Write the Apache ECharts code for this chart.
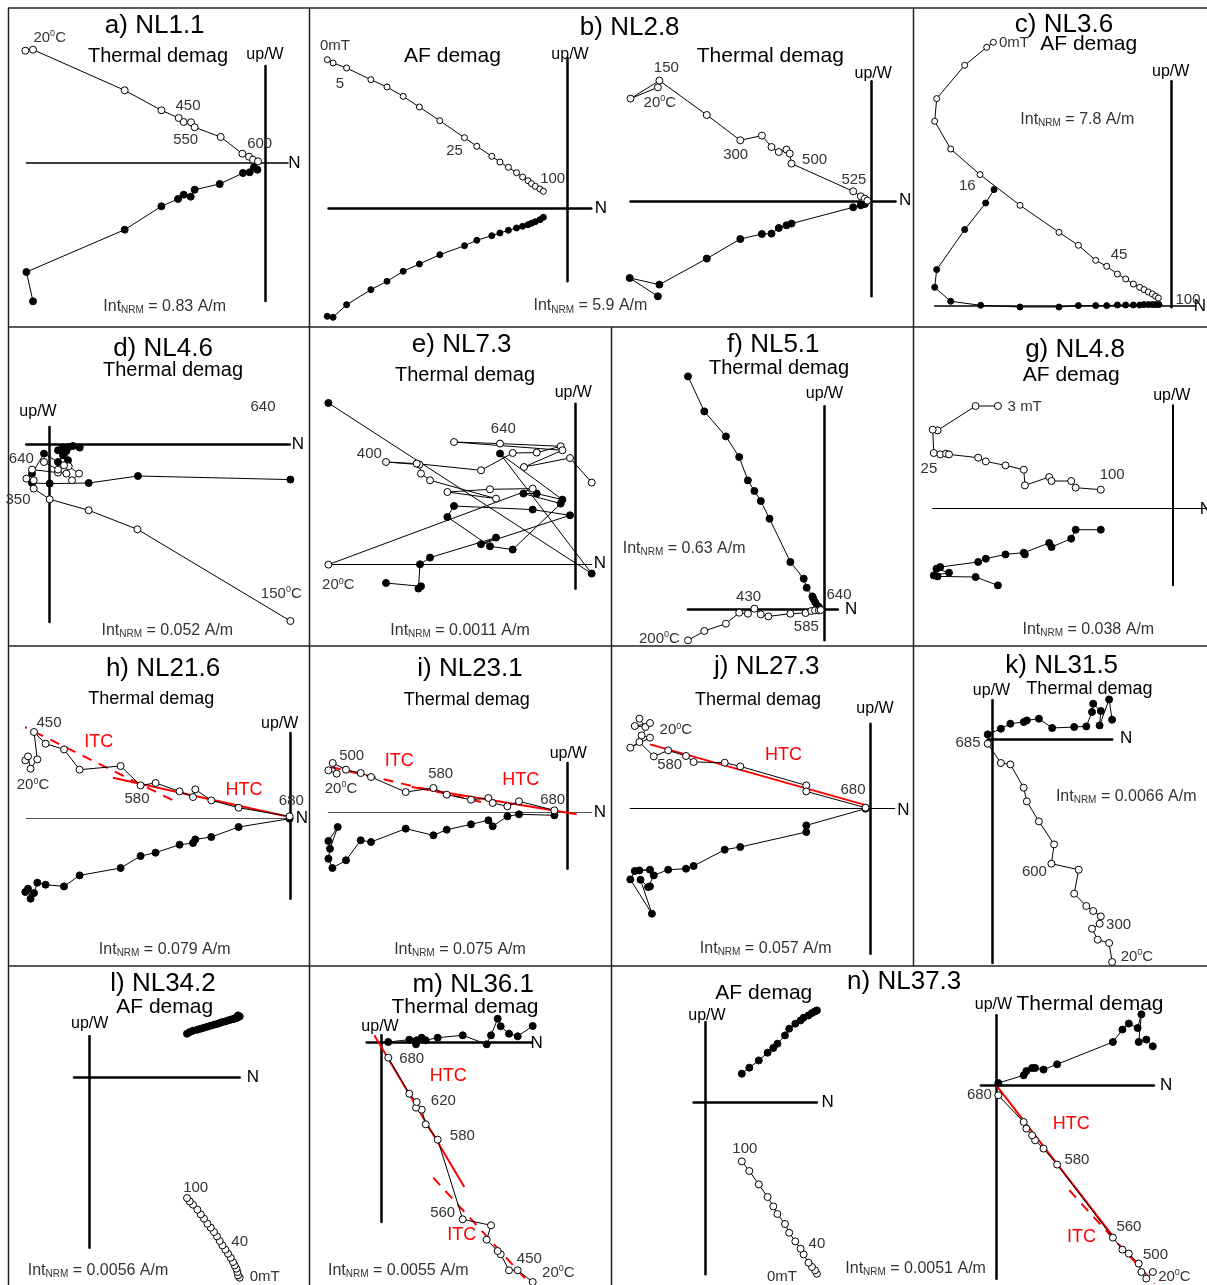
<!DOCTYPE html>
<html>
<head>
<meta charset="utf-8">
<script src="https://cdn.jsdelivr.net/npm/echarts@6/dist/echarts.min.js"></script>
<style>
  html, body { margin: 0; padding: 0; background: #fff; }
  #chart { width: 1207px; height: 1285px; }
</style>
</head>
<body>
<div id="chart"></div>
<script>
// Orthogonal vector-component (Zijderveld) plots of stepwise demagnetisation.
// Each pair is [N component, Up or W component] in scaled units.
// "_vert"  -> open symbols, vertical plane (N vs Up)
// "_horiz" -> filled symbols, horizontal plane (N vs W)

// a) NL1.1, thermal
const NL1_1_vert  = [[-240.3,112.3],[-232.7,113.3],[-141,72.7],[-104.3,52.7],[-87,45],[-82,41],[-74.7,40.7],[-71,35.7],[-45,26],[-23.3,9.3],[-16.7,6.3],[-12.7,3.3],[-7.7,1.7]];
const NL1_1_horiz = [[-232.7,-138.3],[-239.3,-109],[-141,-66.7],[-104.3,-43.3],[-87.7,-36],[-82,-31.7],[-75,-33.7],[-71,-26.7],[-46,-21],[-22.7,-10],[-16,-9.3],[-11.7,-4.3],[-8.3,-6.7]];

// b) NL2.8, AF (0-100 mT)
const NL2_8_AF_N  = [-240,-234.2,-220.7,-196.4,-180.3,-164.1,-147.9,-127.5,-102.8,-90.5,-75.5,-67.4,-58.9,-50.8,-44.7,-39.3,-35.8,-32,-27.4,-23.9];
const NL2_8_AF_Up = [148.3,145,140,128.3,121,111.7,101,87.3,70.3,61.7,51.7,46,40.7,35.3,31,27.3,24.3,21.7,19,16.7];
const NL2_8_AF_W  = [-108.3,-109.3,-96.7,-81.7,-73.3,-63.3,-56,-46.7,-37.7,-32.3,-27.7,-25,-22.3,-20,-18.3,-16.7,-15.3,-13.7,-11.7,-9.3];

// b) NL2.8, thermal
const NL2_8_TH_vert  = [[-213,114],[-240.4,102.7],[-211.5,120.7],[-164.1,86.3],[-130.6,61],[-109,65.7],[-99.4,54.3],[-92.1,49.3],[-84.4,51.7],[-81.2,47.7],[-79.4,37.7],[-17.7,10],[-10.1,5],[-6.1,2.7],[-3.5,0.7]];
const NL2_8_TH_horiz = [[-213,-95],[-241.2,-76.7],[-211.5,-83.3],[-164.1,-57.3],[-130.6,-37.7],[-109,-32.7],[-99.4,-32.3],[-92.1,-26.7],[-84.4,-24],[-79.4,-22.3],[-17.7,-6],[-10.1,-4],[-6.1,-2.7]];

// c) NL3.6, AF
const NL3_6_vert  = [[-178.3,263],[-185,258],[-207,240],[-235,206.7],[-237,184],[-221,156.3],[-191.7,130.7],[-151.7,100],[-112.7,73],[-93.3,60],[-76,45],[-65,39],[-54.3,31.3],[-46,26.3],[-38.3,21.3],[-32,18],[-27.7,15.7],[-23.3,13.3],[-19.3,11.3],[-16,9],[-13.3,7.3]];
const NL3_6_horiz = [[-177.7,115.7],[-186,102.3],[-207,75.7],[-235,35.7],[-237,18],[-221,4],[-191,0],[-151.7,-1.7],[-112.7,-1.7],[-93.3,-0.3],[-76,-0.3],[-65,-0.3],[-54.3,0.3],[-46,0.3],[-38.3,0.3],[-32,0.3],[-27.7,0.7],[-23.3,0.7],[-19.3,0.7],[-16,0.7],[-12.7,0.7]];

// d) NL4.6, thermal
const NL4_6_vert  = [[240.7,-176.7],[87.7,-85],[39,-66],[0,-55],[-16,-44.3],[-23.3,-34.3],[-16,-36],[-17.7,-25.3],[8.3,-28.3],[16.7,-29.3],[22.3,-36],[29.3,-29.3],[19,-22],[14.3,-21],[8.3,-25.3],[-5.7,-17.7]];
const NL4_6_horiz = [[240.7,-35.3],[88.3,-31.7],[39,-38.7],[0,-39.3],[-17.7,-38.7],[-17.7,-29.3],[-5.7,-9.3],[8.3,-17.7],[13.3,-11],[18.3,-16],[16.7,-6.7],[8.3,-6],[13.3,-3.3],[19,-2.7],[23.3,-1.7],[30,-3.3]];

// e) NL7.3, thermal
const NL7_3_vert  = [[-247.3,-0.3],[-43,75.7],[-85.7,75],[-128.3,72.3],[-79.7,65.7],[-145.7,84],[-154.7,90.7],[-156.3,99.7],[-189.7,102.3],[-159,100.7],[-94.7,94],[-63,111.3],[-39,111.7],[-15,118],[-75.7,120.7],[-121.7,122.3],[-13.3,114],[-51.7,97.3],[-5.7,106.3],[16,81.7]];
const NL7_3_horiz = [[-189.7,-18.7],[-154.7,-22],[-157.3,-24.3],[-155.7,0],[-145.7,6.7],[-79.7,26.7],[-94.7,20],[-5.7,49],[-43,54.7],[-121.7,58.3],[-128.3,47.3],[-85.7,18],[-63,14.7],[-15,60.7],[-52.3,70.7],[-39,70.7],[-13.3,64.7],[-75.7,110.7],[16,-9.3],[-247.3,161.3]];

// f) NL5.1, thermal
const NL5_1_vert  = [[-135.8,-30.7],[-119.5,-21.3],[-97.9,-14],[-84.6,-3],[-75.9,-4],[-69.4,1],[-63,-4.7],[-55.4,-6.7],[-33.4,-4],[-18.2,-3.3],[-12.5,-1.3],[-8.8,-0.7],[-4.9,-0.7],[-3.1,-0.3]];
const NL5_1_horiz = [[-135.8,233.3],[-119.5,198.3],[-97.9,173.3],[-84.6,152.7],[-75.9,129.3],[-69.4,118.7],[-63,108.7],[-54.3,91],[-33.4,47.7],[-20.1,31],[-17.1,22],[-11.4,13.3],[-10.6,11],[-8.8,7.7],[-6.8,4.3],[-4.9,2.7]];

// g) NL4.8, AF
const NL4_8_vert  = [[-175,102.7],[-197.3,102.7],[-235.3,78.3],[-240.2,79],[-239.1,55.7],[-232.6,54.3],[-226.9,55],[-223.9,54.3],[-194.7,51],[-187.1,47.3],[-167.4,43.3],[-149.1,39],[-148,23.3],[-123.7,31.7],[-121.4,27.7],[-101.7,27.7],[-97.2,21],[-72.1,19]];
const NL4_8_horiz = [[-175,-76.7],[-197.3,-68.3],[-235.3,-67.7],[-239.1,-66.7],[-223.9,-64],[-236.4,-60],[-232.6,-58.3],[-194.7,-53.3],[-187.1,-50],[-167.4,-45.7],[-149.1,-44],[-148,-45.7],[-123.7,-34.3],[-121.4,-38.3],[-101.7,-30],[-97.2,-21],[-72.1,-21]];

// h) NL21.6, thermal, with fitted components
const NL21_6_vert  = [[-265,58.3],[-262.3,62.3],[-259.7,50],[-253,59.3],[-256.3,86.7],[-244.7,75],[-226.3,69.3],[-210.7,49],[-169.7,52.7],[-149.7,33.3],[-134.7,35.7],[-110.7,27.3],[-97.3,21.7],[-95,29.3],[-79,18.3],[-51.7,11],[-0.7,2.3]];
const NL21_6_horiz = [[-265,-73.3],[-262.3,-70],[-259.7,-80],[-256.3,-74.3],[-253,-64],[-244.7,-66],[-226.3,-67.7],[-210.7,-56.7],[-169.7,-49.3],[-149.7,-37.3],[-134.7,-34],[-110.7,-26],[-97.3,-24.3],[-95,-20.7],[-79,-18.3],[-51.7,-8.3],[-0.7,0]];
const NL21_6_HTC = [[-177.3,41],[-0.7,1.7]];
const NL21_6_ITC = [[-272.3,95],[-114,16.7]];

// i) NL23.1, thermal
const NL23_1_vert  = [[-239.3,41.7],[-231,38.3],[-235,49],[-221.7,42.3],[-207,39],[-196.7,35],[-162,20],[-134.3,24],[-121,17.3],[-96.7,12.3],[-79.3,14],[-75,9],[-60.3,5.7],[-48.7,10.7],[-13.3,1.7]];
const NL23_1_horiz = [[-239.3,-29],[-230,-15],[-237.7,-36.7],[-239.3,-46.7],[-235.3,-56],[-221.7,-48.3],[-207,-28.3],[-196.7,-30],[-162,-16.7],[-134.3,-23.3],[-121,-17.7],[-96.7,-12.3],[-79.3,-8.3],[-75,-14.3],[-60.3,-4.3],[-48.7,-2.3],[-13.3,-3.3]];
const NL23_1_HTC = [[-156,25],[9,-2.3]];
const NL23_1_ITC = [[-254.3,49],[-79.3,8.3]];

// j) NL27.3, thermal
const NL27_3_vert  = [[-230.7,90],[-224.7,81.7],[-235.3,82.7],[-220.1,85.7],[-228.5,73.3],[-220.1,71],[-239.8,61],[-230.7,66.7],[-216.3,52.3],[-201.9,58.3],[-184.1,52.7],[-176.5,46.7],[-145.4,46],[-129.8,42.3],[-63.8,23.3],[-63.8,17.3],[-4.6,1]];
const NL27_3_horiz = [[-230.7,-61.7],[-220.1,-61],[-235.3,-62.3],[-239.8,-70.7],[-218.2,-105],[-229.6,-71],[-222,-78.3],[-220.1,-77.7],[-216.3,-66.7],[-201.9,-61],[-184.1,-60],[-176.5,-57.3],[-145.4,-41],[-129.8,-38.3],[-63.8,-23.3],[-63.8,-16.7],[-4.6,0]];
const NL27_3_HTC = [[-220.1,64.3],[0,2.3]];

// k) NL31.5, thermal
const NL31_5_vert  = [[119.5,-222.3],[116.5,-203.3],[105.1,-200],[99.4,-189],[107,-184],[108.2,-176.7],[100.6,-171.3],[93.7,-166.3],[81.6,-154],[86.1,-130],[58.8,-124],[61.5,-104.7],[46.3,-81.7],[34.2,-61.7],[31.1,-48],[17.8,-24.7],[8.3,-23.3],[-4.9,-4]];
const NL31_5_horiz = [[119.5,20],[116.5,40.3],[107,14.3],[108.2,28.7],[100.6,36],[99.4,27.7],[93.7,13.3],[81.6,12.7],[59.6,11.7],[46.3,21],[34.2,19.3],[31.1,17.7],[17.8,16],[8.3,11],[-4.9,5.3]];

// l) NL34.2, AF (0-100 mT)
const NL34_2_N  = [150,148.3,147.7,146.7,145,143.3,141,138.3,135.7,132.7,130,127.3,124.3,121,117.7,114.3,111,107.7,103.3,100,97.3];
const NL34_2_Up = [-200,-197.7,-194.3,-191,-187.7,-184.3,-180,-176,-172,-167.7,-163.3,-158.7,-154.3,-150,-146,-141,-136.7,-132,-127,-123.7,-120.3];
const NL34_2_W  = [61.3,62.3,60,60.3,59,58.7,58,57.3,56.3,55.7,54.7,53.7,53,52,51,50,49,48,47,45.7,44];

// m) NL36.1, thermal
const NL36_1_vert  = [[151.7,-240],[136.7,-228.3],[128,-228.3],[119.7,-212.3],[116.7,-209],[105.7,-197.7],[110,-183.3],[81.7,-177.3],[56.7,-97.7],[44.7,-82.3],[40.7,-67.7],[35,-65.7],[35.7,-60],[28.3,-51.7],[7.3,-15.7]];
const NL36_1_horiz = [[151.7,16],[136.7,5.7],[128,8.3],[119.7,15.7],[116.7,23.3],[110,6.7],[105.7,-2.3],[81.7,6.7],[56.7,4.3],[44.7,1.7],[40.7,4.3],[35,-2.3],[35.7,1.7],[28.3,2.3],[7.3,0]];
const NL36_1_HTC = [[-6.7,6.7],[83.3,-145]];
const NL36_1_ITC = [[52.3,-135.7],[147.3,-240]];

// n) NL37.3, AF (0-100 mT)
const NL37_3_AF_N  = [111.2,109.3,106.3,102.8,97.9,94.9,89.6,83.5,79.3,71.7,67.6,61.9,53.1,43.6,36.1];
const NL37_3_AF_Up = [-171,-167.7,-164.3,-160,-151.7,-146,-138.7,-130,-121.3,-111.3,-103.7,-94.3,-81.7,-68.3,-58.7];
const NL37_3_AF_W  = [92.3,91.3,89.7,87.3,85,82.3,79,74,67.3,59,54.7,50,42.3,35,29];

// n) NL37.3, thermal
const NL37_3_TH_vert  = [[156.4,-186.7],[149.9,-193.3],[145,-186.7],[142.3,-178.3],[132.4,-168.3],[126,-164.3],[116.5,-152.3],[60.7,-79.3],[47.1,-63.3],[38.7,-55],[35.7,-50],[30,-43.3],[27.3,-36.7],[1.9,-10]];
const NL37_3_TH_horiz = [[156.4,39],[149.9,45.7],[142.3,43.3],[145,71],[141.2,57.3],[132.4,61.7],[126,55.7],[116.5,43.3],[60.7,21],[47.1,15.7],[38.7,17.3],[35.7,17.3],[30,14.3],[27.3,10],[1.9,2.3]];
const NL37_3_TH_HTC = [[0,0],[118.4,-153.3]];
const NL37_3_TH_ITC = [[72.9,-105],[158.3,-198.3]];

const zip = (xs, ys) => xs.map((x, k) => [x, ys[k]]);

// ---- layout: origin of each cross on the page, axis extents in data units ----
const panels = [
  { o: [265.7, 163],   h: [-239.4, 22.3], v: [-138, 97],     hw: 1.5, vw: 2.5, open: NL1_1_vert, fill: NL1_1_horiz },
  { o: [567.3, 208],   h: [-238.8, 23.9], v: [-73.3, 150],   hw: 2.5, vw: 2.5, open: zip(NL2_8_AF_N, NL2_8_AF_Up), fill: zip(NL2_8_AF_N, NL2_8_AF_W), sym: 6 },
  { o: [870.9, 201.3], h: [-240.4, 24.6], v: [-95, 120],     hw: 2.5, vw: 2.5, open: NL2_8_TH_vert, fill: NL2_8_TH_horiz },
  { o: [1171.7, 305.3],h: [-237, 24],     v: [-2, 224],      hw: 1.5, vw: 2.5, open: NL3_6_vert, fill: NL3_6_horiz, sym: 6 },
  { o: [49.7, 444.3],  h: [-23.4, 240],   v: [-177.7, 17.3], hw: 2.5, vw: 2.5, open: NL4_6_vert, fill: NL4_6_horiz },
  { o: [575.7, 564.3], h: [-247.4, 16],   v: [-24.4, 160.6], hw: 1.2, vw: 2.5, open: NL7_3_vert, fill: NL7_3_horiz },
  { o: [823.8, 609.7], h: [-135.9, 14],   v: [-30.6, 203.4], hw: 2.5, vw: 2.5, open: NL5_1_vert, fill: NL5_1_horiz },
  { o: [1172.9, 508.7],h: [-240.2, 34],   v: [-76.6, 103.4], hw: 1.2, vw: 2,   open: NL4_8_vert, fill: NL4_8_horiz },
  { o: [290.3, 818.7], h: [-264, 0],      v: [-80, 85.7],    hw: 1,   vw: 2.5, hc: '#555', open: NL21_6_vert, fill: NL21_6_horiz, htc: NL21_6_HTC, itc: NL21_6_ITC },
  { o: [567.7, 812],   h: [-239.4, 24],   v: [-56.7, 49],    hw: 1,   vw: 2.5, hc: '#555', open: NL23_1_vert, fill: NL23_1_horiz, htc: NL23_1_HTC, itc: NL23_1_ITC },
  { o: [870.1, 808.7], h: [-239.9, 24.6], v: [-145, 85],     hw: 1.2, vw: 2.5, open: NL27_3_vert, fill: NL27_3_horiz, htc: NL27_3_HTC },
  { o: [992.6, 739.7], h: [-4.9, 119.6],  v: [-223.3, 39.4], hw: 2.5, vw: 2.5, open: NL31_5_vert, fill: NL31_5_horiz },
  { o: [89.7, 1077.7], h: [-15.7, 150],   v: [-170, 41.4],   hw: 2.5, vw: 2.5, open: zip(NL34_2_N, NL34_2_Up), fill: zip(NL34_2_N, NL34_2_W), sym: 7 },
  { o: [381, 1042],    h: [-14.3, 150.7], v: [-180, 6.7],    hw: 2.5, vw: 2.5, open: NL36_1_vert, fill: NL36_1_horiz, htc: NL36_1_HTC, itc: NL36_1_ITC },
  { o: [705.7, 1102.7],h: [-12.1, 111.2], v: [-171.6, 80.7], hw: 2.5, vw: 2.5, open: zip(NL37_3_AF_N, NL37_3_AF_Up), fill: zip(NL37_3_AF_N, NL37_3_AF_W), sym: 7 },
  { o: [996.4, 1085.3],h: [-15.5, 157.5], v: [-193.4, 70],   hw: 2.5, vw: 2.5, open: NL37_3_TH_vert, fill: NL37_3_TH_horiz, htc: NL37_3_TH_HTC, itc: NL37_3_TH_ITC }
];

// ---- text: [string, x, y, font size, colour] ----
const RED = '#f00';
const DARK = '#333';
const TITLE = 26;
const texts = [
  ['a) NL1.1',154.7,26.3,TITLE], ['Thermal demag',158,56.3,20], ['up/W',265,54.7,16], ['N',294.3,163,17],
  ['20{sup|0}C',49.7,38,15,DARK], ['450',188,105.7,15,DARK], ['550',185.7,139.7,15,DARK], ['600',259.7,144,15,DARK],
  ['Int{sub|NRM} = 0.83 A/m',164.7,306.3,16,DARK],

  ['b) NL2.8',629.7,28,TITLE], ['AF demag',452.5,56.3,21], ['Thermal demag',770.3,56.3,21],
  ['up/W',570,54.7,16], ['up/W',873.2,74,16], ['N',600.8,208,17], ['N',905.2,200.7,17],
  ['0mT',335,46.3,15,DARK], ['5',340,84,15,DARK], ['25',454.5,150.7,15,DARK], ['100',552.7,178.7,15,DARK],
  ['150',666.3,68,15,DARK], ['20{sup|0}C',659.8,103,15,DARK], ['300',735.7,154.7,15,DARK], ['500',814.6,159.7,15,DARK], ['525',853.9,179.7,15,DARK],
  ['Int{sub|NRM} = 5.9 A/m',590.4,306,16,DARK],

  ['c) NL3.6',1064,24.7,TITLE], ['0mT',1014,43,15,DARK], ['AF demag',1088.7,44.7,21], ['up/W',1170.7,71.3,16],
  ['Int{sub|NRM} = 7.8 A/m',1077.3,119.7,16,DARK], ['16',967.3,186.3,15,DARK], ['45',1119,254.7,15,DARK],
  ['100',1188,299.7,15,DARK], ['N',1200,306,17],

  ['d) NL4.6',163,348.7,TITLE], ['Thermal demag',173,370.3,20], ['up/W',38,412,16], ['N',298,444.3,17],
  ['640',263,407,15,DARK], ['640',21.3,458.7,15,DARK], ['350',18,500.3,15,DARK], ['150{sup|0}C',281.3,593.7,15,DARK],
  ['Int{sub|NRM} = 0.052 A/m',167.3,630.3,16,DARK],

  ['e) NL7.3',461.7,345.3,TITLE], ['Thermal demag',465,375.3,20], ['up/W',573.3,393,16], ['N',600,563.7,17],
  ['640',503.3,428.7,15,DARK], ['400',369.3,453.7,15,DARK], ['20{sup|0}C',338.3,585.3,15,DARK],
  ['Int{sub|NRM} = 0.0011 A/m',460,630.3,16,DARK],

  ['f) NL5.1',773.3,345.3,TITLE], ['Thermal demag',779,368.7,20], ['up/W',824.5,393.7,16], ['N',851.1,609.7,17],
  ['640',839,595.3,15,DARK], ['430',748.6,597,15,DARK], ['585',806.3,627,15,DARK], ['200{sup|0}C',659.4,638.7,15,DARK],
  ['Int{sub|NRM} = 0.63 A/m',684.1,548.7,16,DARK],

  ['g) NL4.8',1075,350.3,TITLE], ['AF demag',1071.2,375.3,21], ['up/W',1171.8,395.3,16], ['N',1206,509,17],
  ['3 mT',1024.7,407,15,DARK], ['25',928.9,468.7,15,DARK], ['100',1112.2,475.3,15,DARK],
  ['Int{sub|NRM} = 0.038 A/m',1088.3,629.7,16,DARK],

  ['h) NL21.6',163,668.7,TITLE], ['Thermal demag',151.3,698.7,18], ['up/W',279.7,723.7,16], ['N',302,818.7,17],
  ['450',49,723,15,DARK], ['ITC',98.7,742,18,RED], ['20{sup|0}C',33,785.3,15,DARK], ['580',137,798.7,15,DARK],
  ['HTC',244,789.7,18,RED], ['680',291.3,801,15,DARK], ['Int{sub|NRM} = 0.079 A/m',164.7,949.7,16,DARK],

  ['i) NL23.1',470,668.7,TITLE], ['Thermal demag',466.7,699.7,18], ['up/W',568.3,753.7,16], ['N',600,812,17],
  ['500',351.7,756.3,15,DARK], ['ITC',399.3,761,18,RED], ['20{sup|0}C',341,788.7,15,DARK], ['580',440.7,773.7,15,DARK],
  ['HTC',520.7,780.3,18,RED], ['680',552.7,800.3,15,DARK], ['Int{sub|NRM} = 0.075 A/m',460,949.7,16,DARK],

  ['j) NL27.3',766.8,667,TITLE], ['Thermal demag',758.1,699.7,18], ['up/W',875,708.7,16], ['N',903.5,810.3,17],
  ['20{sup|0}C',675.8,730.3,15,DARK], ['580',669.7,765.3,15,DARK], ['HTC',783.5,755.3,18,RED], ['680',853,790.3,15,DARK],
  ['Int{sub|NRM} = 0.057 A/m',765.7,948.7,16,DARK],

  ['k) NL31.5',1061.7,666.3,TITLE], ['Thermal demag',1089.4,688.7,18], ['up/W',991.5,690.3,16], ['N',1126.2,738.7,17],
  ['685',968,742.7,15,DARK], ['Int{sub|NRM} = 0.0066 A/m',1126.2,796.3,16,DARK], ['600',1034.4,872,15,DARK],
  ['300',1118.6,925.3,15,DARK], ['20{sup|0}C',1136.9,957,15,DARK],

  ['l) NL34.2',163,983.7,TITLE], ['AF demag',164.7,1007,21], ['up/W',89.7,1023.7,16], ['N',253,1077.7,17],
  ['100',195.7,1187.7,15,DARK], ['40',239.7,1242,15,DARK], ['0mT',264.7,1277,15,DARK],
  ['Int{sub|NRM} = 0.0056 A/m',98,1270.3,16,DARK],

  ['m) NL36.1',473.3,985.3,TITLE], ['Thermal demag',465,1007.7,21], ['up/W',380,1026.3,16], ['N',536.7,1043,17],
  ['680',411.7,1058.7,15,DARK], ['HTC',448.3,1076.3,18,RED], ['620',443.3,1101,15,DARK], ['580',462.3,1136.3,15,DARK],
  ['560',442.7,1213,15,DARK], ['ITC',461.7,1235.3,18,RED], ['450',529.3,1258.7,15,DARK], ['20{sup|0}C',558.3,1273,15,DARK],
  ['Int{sub|NRM} = 0.0055 A/m',398.3,1270.3,16,DARK],

  ['n) NL37.3',904.2,982,TITLE], ['AF demag',763.8,993.7,21], ['up/W',706.9,1015.3,16], ['N',827.6,1102.7,17],
  ['100',744.8,1148.7,15,DARK], ['40',816.9,1244.3,15,DARK], ['0mT',782,1277,15,DARK],
  ['up/W',993.4,1004.3,16], ['Thermal demag',1090,1004.3,21], ['N',1166.1,1085.3,17],
  ['680',979.4,1095.3,15,DARK], ['HTC',1071.2,1123.7,18,RED], ['580',1076.9,1160.3,15,DARK], ['560',1128.9,1227,15,DARK],
  ['ITC',1081.4,1237,18,RED], ['500',1155.5,1255.3,15,DARK], ['20{sup|0}C',1174.4,1277,15,DARK],
  ['Int{sub|NRM} = 0.0051 A/m',915.6,1268.7,16,DARK]
];

// frame dividing the figure into panels
const frame = [[8,8,1207,8],[8.5,8,8.5,1285],[8,327,1207,327],[8,646,1207,646],[8,966,1207,966],
               [309.5,8,309.5,1285],[611.5,327,611.5,1285],[913.5,8,913.5,966]];

const FONT = "'Liberation Sans', Arial, Helvetica, sans-serif";

const grids = [], xAxes = [], yAxes = [], series = [];
panels.forEach((p, i) => {
  const [ox, oy] = p.o;
  grids.push({
    left: ox + p.h[0], top: oy - p.v[1],
    width: p.h[1] - p.h[0], height: p.v[1] - p.v[0],
    containLabel: false, outerBoundsMode: 'none'
  });
  const hidden = { axisTick: { show: false }, axisLabel: { show: false }, splitLine: { show: false } };
  xAxes.push(Object.assign({
    type: 'value', gridIndex: i, min: p.h[0], max: p.h[1],
    axisLine: { show: true, onZero: true, lineStyle: { color: p.hc || '#000', width: p.hw } }
  }, hidden));
  yAxes.push(Object.assign({
    type: 'value', gridIndex: i, min: p.v[0], max: p.v[1],
    axisLine: { show: true, onZero: true, lineStyle: { color: '#000', width: p.vw } }
  }, hidden));

  const common = {
    type: 'line', xAxisIndex: i, yAxisIndex: i, symbol: 'circle', symbolSize: p.sym || 7,
    showAllSymbol: true, clip: false, silent: true, animation: false, z: 3,
    lineStyle: { color: '#000', width: 1 }, emphasis: { disabled: true }
  };
  if (p.htc) series.push({ type: 'line', xAxisIndex: i, yAxisIndex: i, data: p.htc, symbol: 'none', clip: false,
    silent: true, animation: false, z: 2, lineStyle: { color: RED, width: 2 } });
  if (p.itc) series.push({ type: 'line', xAxisIndex: i, yAxisIndex: i, data: p.itc, symbol: 'none', clip: false,
    silent: true, animation: false, z: 2, lineStyle: { color: RED, width: 2, type: [10, 8] } });
  series.push(Object.assign({}, common, { data: p.fill, itemStyle: { color: '#000', borderColor: '#000', borderWidth: 1 } }));
  series.push(Object.assign({}, common, { data: p.open, itemStyle: { color: '#fff', borderColor: '#000', borderWidth: 1 } }));
});

const graphic = [];
frame.forEach(([x1, y1, x2, y2]) => graphic.push({
  type: 'line', silent: true, shape: { x1, y1, x2, y2 }, style: { stroke: '#222', lineWidth: 1.5 }
}));
texts.forEach(([t, x, y, size, color]) => {
  const small = Math.round(size * 0.62);
  graphic.push({
    type: 'text', silent: true, x, y, z: 10,
    style: {
      text: t, fontSize: size, fontFamily: FONT, fill: color || '#000',
      align: 'center', verticalAlign: 'middle',
      rich: {
        sub: { fontSize: small, fontFamily: FONT, fill: color || '#000', padding: [Math.round(size * 0.5), 0, 0, 0] },
        sup: { fontSize: small, fontFamily: FONT, fill: color || '#000', padding: [0, 0, Math.round(size * 0.5), 0] }
      }
    }
  });
});

const chart = echarts.init(document.getElementById('chart'), null, { renderer: 'canvas' });
chart.setOption({
  animation: false,
  backgroundColor: '#fff',
  grid: grids, xAxis: xAxes, yAxis: yAxes, series, graphic
});
</script>
</body>
</html>
